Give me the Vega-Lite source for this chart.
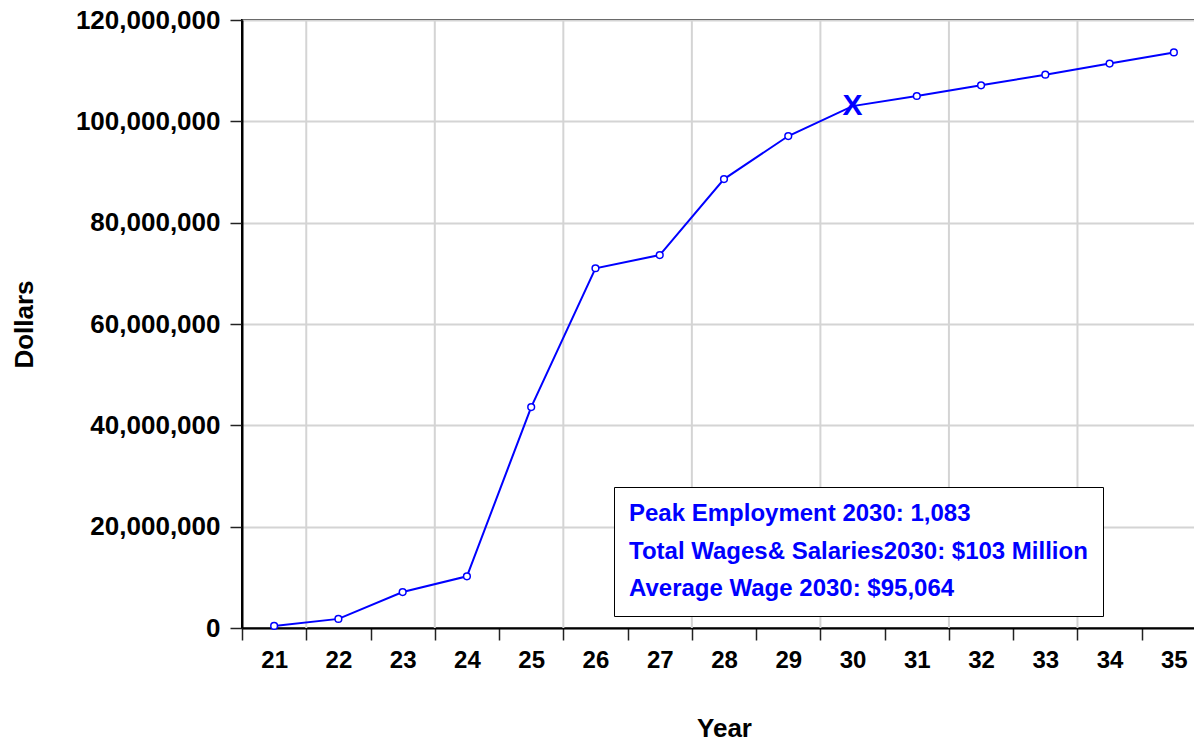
{
  "$schema": "https://vega.github.io/schema/vega-lite/v6.json",
  "width": 964,
  "height": 608,
  "autosize": {"type": "none"},
  "padding": {"left": 242, "top": 20, "right": -12, "bottom": 113},
  "background": "white",
  "config": {
    "font": "Liberation Sans",
    "view": {"stroke": "black", "strokeWidth": 2},
    "axis": {
      "domainColor": "black",
      "domainWidth": 2,
      "tickColor": "#222222",
      "tickWidth": 1.5,
      "tickSize": 12,
      "gridColor": "#d4d4d4",
      "gridWidth": 2,
      "labelFontWeight": "bold",
      "labelColor": "black",
      "titleFontWeight": "bold",
      "titleColor": "black",
      "titleFontSize": 26
    }
  },
  "datasets": {
    "wages": [
      {"year": 21, "dollars": 400000, "marker": "o"},
      {"year": 22, "dollars": 1800000, "marker": "o"},
      {"year": 23, "dollars": 7100000, "marker": "o"},
      {"year": 24, "dollars": 10200000, "marker": "o"},
      {"year": 25, "dollars": 43600000, "marker": "o"},
      {"year": 26, "dollars": 71000000, "marker": "o"},
      {"year": 27, "dollars": 73600000, "marker": "o"},
      {"year": 28, "dollars": 88600000, "marker": "o"},
      {"year": 29, "dollars": 97100000, "marker": "o"},
      {"year": 30, "dollars": 103000000, "marker": "x"},
      {"year": 31, "dollars": 105000000, "marker": "o"},
      {"year": 32, "dollars": 107100000, "marker": "o"},
      {"year": 33, "dollars": 109200000, "marker": "o"},
      {"year": 34, "dollars": 111400000, "marker": "o"},
      {"year": 35, "dollars": 113600000, "marker": "o"}
    ],
    "notes": [
      {"note": "Peak Employment 2030: 1,083"},
      {"note": "Total Wages& Salaries2030: $103 Million"},
      {"note": "Average Wage 2030: $95,064"}
    ]
  },
  "layer": [
    {
      "data": {"name": "wages"},
      "transform": [{"filter": "indexof([22, 24, 26, 28, 30, 32, 34], datum.year) >= 0"}],
      "mark": {"type": "rule", "color": "#d4d4d4", "strokeWidth": 2},
      "encoding": {
        "x": {
          "field": "year",
          "type": "ordinal",
          "bandPosition": 0,
          "scale": {"paddingInner": 0, "paddingOuter": 0},
          "axis": {
            "title": "Year",
            "grid": false,
            "bandPosition": 0.5,
            "labelAngle": 0,
            "labelFontSize": 24,
            "labelPadding": 8,
            "tickBand": "extent",
            "titleY": 100,
            "titleBaseline": "middle",
            "titlePadding": 0
          }
        }
      }
    },
    {
      "data": {"name": "wages"},
      "mark": {"type": "line", "color": "#0000ff", "strokeWidth": 2},
      "encoding": {
        "x": {
          "field": "year",
          "type": "ordinal",
          "scale": {"paddingInner": 0, "paddingOuter": 0},
          "axis": {
            "title": "Year",
            "grid": false,
            "bandPosition": 0.5,
            "labelAngle": 0,
            "labelFontSize": 24,
            "labelPadding": 8,
            "tickBand": "extent",
            "titleY": 100,
            "titleBaseline": "middle",
            "titlePadding": 0
          }
        },
        "y": {
          "field": "dollars",
          "type": "quantitative",
          "scale": {"domain": [0, 120000000], "nice": false},
          "axis": {
            "title": "Dollars",
            "values": [0, 20000000, 40000000, 60000000, 80000000, 100000000, 120000000],
            "format": ",.0f",
            "labelFontSize": 26,
            "labelPadding": 10,
            "titleAngle": -90,
            "titleX": -218,
            "titleY": 304,
            "titleAlign": "center",
            "titleBaseline": "middle"
          }
        }
      }
    },
    {
      "data": {"name": "wages"},
      "transform": [{"filter": "datum.marker === 'o'"}],
      "mark": {"type": "point", "shape": "circle", "filled": true, "fill": "white", "stroke": "#0000ff", "strokeWidth": 1.5, "size": 45, "opacity": 1},
      "encoding": {
        "x": {"field": "year", "type": "ordinal"},
        "y": {"field": "dollars", "type": "quantitative"}
      }
    },
    {
      "data": {"name": "wages"},
      "transform": [{"filter": "datum.marker === 'x'"}],
      "mark": {"type": "text", "text": "X", "fontSize": 30, "fontWeight": "bold", "color": "#0000ff", "align": "center", "baseline": "middle"},
      "encoding": {
        "x": {"field": "year", "type": "ordinal"},
        "y": {"field": "dollars", "type": "quantitative"}
      }
    },
    {
      "data": {"name": "notes"},
      "mark": {"type": "point", "opacity": 0},
      "encoding": {
        "color": {
          "field": "note",
          "type": "nominal",
          "scale": {
            "domain": ["Peak Employment 2030: 1,083", "Total Wages& Salaries2030: $103 Million", "Average Wage 2030: $95,064"],
            "range": ["#0000ff", "#0000ff", "#0000ff"]
          },
          "legend": {
            "orient": "none",
            "legendX": 372,
            "legendY": 467,
            "title": null,
            "padding": 15,
            "strokeColor": "black",
            "fillColor": "white",
            "symbolSize": 0,
            "symbolOpacity": 0,
            "symbolStrokeWidth": 0,
            "labelOffset": -24,
            "labelFontSize": 24,
            "labelFontWeight": "bold",
            "labelColor": "#0000ff",
            "labelLimit": 800,
            "rowPadding": 13.5
          }
        }
      }
    }
  ]
}
